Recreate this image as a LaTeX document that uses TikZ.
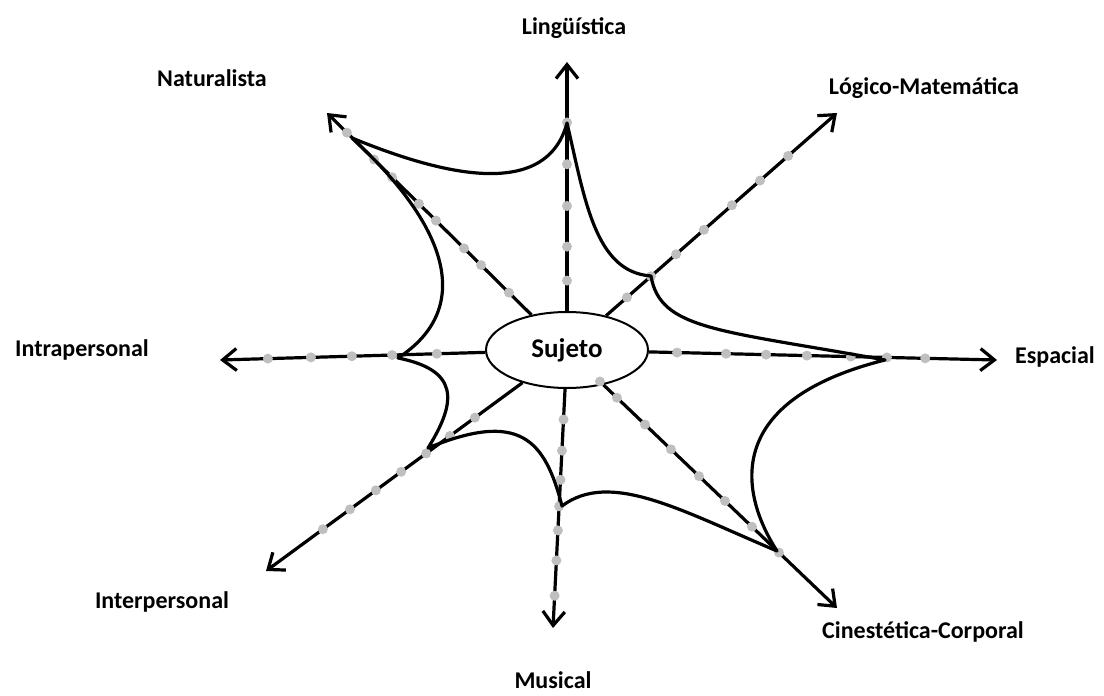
\documentclass[tikz,border=0pt]{standalone}
\usepackage{fontspec}
\setmainfont{Carlito}
\usepackage{tikz}
\usetikzlibrary{arrows.meta,calc,shapes.geometric}
\tikzset{dot/.style={inner sep=0pt, minimum size=10pt, fill=black!25, circle}}
\tikzset{axis/.style={line width=3.2pt, -{Straight Barb[length=14pt, width=22pt]}}}

\begin{document}
\begin{tikzpicture}[x=1pt, y=-1pt, font=\fontsize{24}{28}\selectfont\bfseries, inner sep=1pt]
    \useasboundingbox (0,0) rectangle (1104,696);
    \node (sujeto) [ellipse, draw, line width=2pt, minimum width=162pt, minimum height=76pt, fill=white, font=\fontsize{27}{32}\selectfont\bfseries] at (567,350) {Sujeto};

    \coordinate (lin) at (567,62);
    \coordinate (log) at (837,113);
    \coordinate (esp) at (997,360);
    \coordinate (cin) at (837,608);
    \coordinate (mus) at (553,628);
    \coordinate (inter) at (266,571);
    \coordinate (intra) at (220,360);
    \coordinate (nat) at (327,113);

    \foreach \t/\f in {lin/{0.241,0.359,0.5,0.645,0.79},
                       log/{0.222,0.311,0.404,0.507,0.611,0.715,0.819},
                       esp/{0.256,0.37,0.463,0.558,0.66,0.744,0.833},
                       cin/{0.122,0.185,0.289,0.385,0.489,0.585,0.685,0.785},
                       mus/{0.25,0.362,0.467,0.562,0.649,0.757,0.884},
                       inter/{0.306,0.389,0.468,0.551,0.635,0.721,0.811},
                       intra/{0.375,0.504,0.62,0.738,0.862},
                       nat/{0.242,0.358,0.429,0.546,0.617,0.729,0.804,0.917}} {
        \draw [axis] (sujeto) -- (\t);
        \foreach \p in \f {
            \node [dot] at ($(sujeto.center)!\p!(\t)$) {};
        }
    }

    \draw [line width=3.2pt, line join=round]
        (352,138) .. controls (430,170) and (545,205) .. (567,123)
        .. controls (585,200) and (595,272) .. (651,276)
        .. controls (660,330) and (720,330) .. (885,360)
        .. controls (725,400) and (738,490) .. (777,551)
        .. controls (680,510) and (610,470) .. (562,506)
        .. controls (545,440) and (520,410) .. (428,448)
        .. controls (458,400) and (458,370) .. (398,358)
        .. controls (472,310) and (452,230) .. (352,138);

    \node (llin) at (574,28) {Lingüística};
    \node (llog) at (924,88) {Lógico-Matemática};
    \node (lesp) at (1055,357) {Espacial};
    \node (lcin) at (923,632) {Cinestética-Corporal};
    \node (lmus) at (553,680) {Musical};
    \node (linter) at (162,602) {Interpersonal};
    \node (lintra) at (82,350) {Intrapersonal};
    \node (lnat) at (212,78) {Naturalista};
\end{tikzpicture}
\end{document}
